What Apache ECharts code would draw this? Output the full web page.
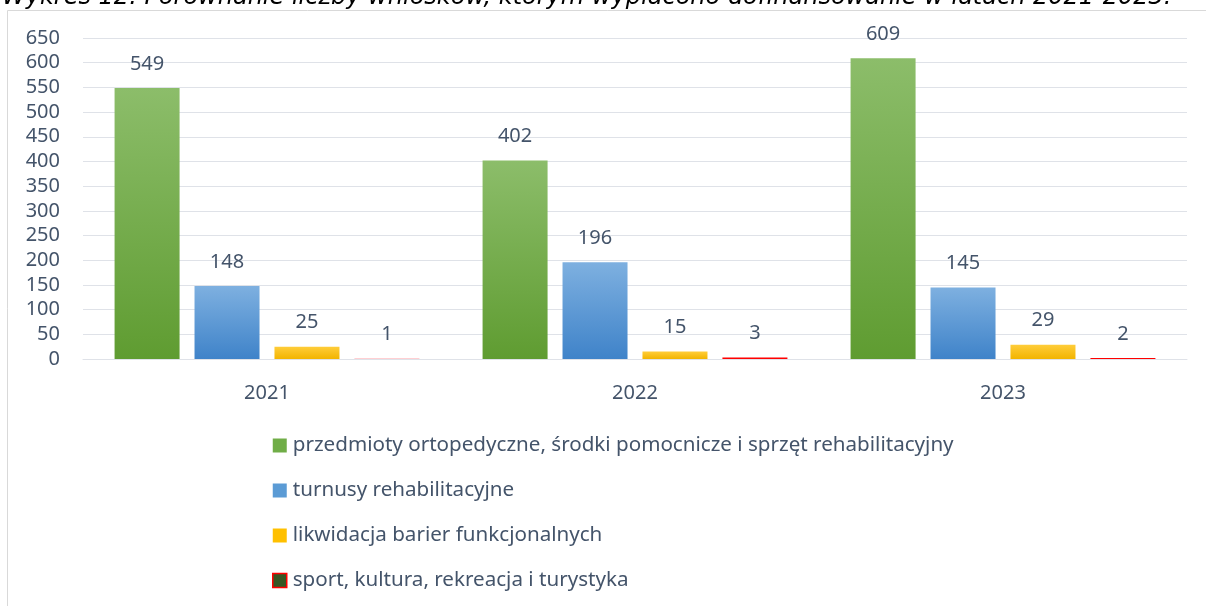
<!DOCTYPE html>
<html>
<head>
<meta charset="utf-8">
<script src="https://cdn.jsdelivr.net/npm/echarts@6/dist/echarts.min.js"></script>
<style>
  html, body { margin: 0; padding: 0; background: #fff; }
  #chart { width: 1206px; height: 606px; }
</style>
</head>
<body>
<div id="chart"></div>
<script>
const years = ['2021', '2022', '2023']
const seriesNames = [
  'przedmioty ortopedyczne, środki pomocnicze i sprzęt rehabilitacyjny',
  'turnusy rehabilitacyjne',
  'likwidacja barier funkcjonalnych',
  'sport, kultura, rekreacja i turystyka'
]
const ortopedyczne = [549, 402, 609]
const turnusy = [148, 196, 145]
const bariery = [25, 15, 29]
const sport = [1, 3, 2]
const yTicks = [0, 50, 100, 150, 200, 250, 300, 350, 400, 450, 500, 550, 600, 650]

const textColor = '#44546a'
const font = 'Noto Sans'

function grad(top, bottom) {
  return new echarts.graphic.LinearGradient(0, 0, 0, 1, [
    { offset: 0, color: top },
    { offset: 1, color: bottom }
  ])
}

const colors = [
  grad('#8cbd6a', '#5f9c31'),
  grad('#7eb0e0', '#3f83c9'),
  grad('#ffcd3a', '#f2b400'),
  '#ff0000'
]
const legendColors = ['#70ad47', '#5b9bd5', '#ffc000', '#375623']

const dataSets = [ortopedyczne, turnusy, bariery, sport]

const chart = echarts.init(document.getElementById('chart'))

const series = dataSets.map((d, i) => ({
  name: seriesNames[i],
  type: 'bar',
  data: d.map((v, j) => {
    // the 2021 sport bar is drawn pale in the original
    if (i === 3 && j === 0) {
      return { value: v, itemStyle: { color: '#ff9fa6' } }
    }
    return v
  }),
  barWidth: 65,
  barGap: '23%',
  itemStyle: {
    color: colors[i]
  },
  label: {
    show: true,
    position: 'top',
    distance: 14,
    color: textColor,
    fontFamily: font,
    fontSize: 20
  }
}))

chart.setOption({
  animation: false,
  title: {
    text: 'Wykres 12. Porównanie liczby wniosków, którym wypłacono dofinansowanie w latach 2021-2023.',
    left: -3,
    top: -19,
    textStyle: {
      fontFamily: 'DejaVu Sans',
      fontStyle: 'italic',
      fontWeight: 'normal',
      fontSize: 24,
      color: '#000'
    }
  },
  graphic: [{
    type: 'rect',
    shape: { x: 7.5, y: 10.5, width: 1300, height: 700 },
    style: { fill: 'none', stroke: '#d9d9d9', lineWidth: 1 },
    silent: true,
    z: -1
  }],
  legend: {
    orient: 'vertical',
    left: 267,
    top: 427,
    itemGap: 18,
    itemWidth: 14,
    itemHeight: 14,
    icon: 'rect',
    data: seriesNames.map((n, i) => ({
      name: n,
      itemStyle: i === 3
        ? { color: legendColors[i], borderColor: '#ff0000', borderWidth: 1.5 }
        : { color: legendColors[i] }
    })),
    textStyle: {
      color: textColor,
      fontFamily: font,
      fontSize: 20.6,
      lineHeight: 27,
      padding: [0, 0, 0, 1]
    }
  },
  grid: {
    left: 83,
    right: 19,
    top: 38,
    bottom: 247,
    containLabel: false
  },
  xAxis: {
    type: 'category',
    data: years,
    axisTick: { show: false },
    axisLine: { lineStyle: { color: '#dfe2e8' } },
    axisLabel: {
      color: textColor,
      fontFamily: font,
      fontSize: 20,
      margin: 24
    }
  },
  yAxis: {
    type: 'value',
    min: yTicks[0],
    max: yTicks[yTicks.length - 1],
    interval: 50,
    axisLine: { show: false },
    axisTick: { show: false },
    splitLine: { lineStyle: { color: '#dfe2e8' } },
    axisLabel: {
      color: textColor,
      fontFamily: font,
      fontSize: 20,
      margin: 23
    }
  },
  series: series
})
</script>
</body>
</html>
